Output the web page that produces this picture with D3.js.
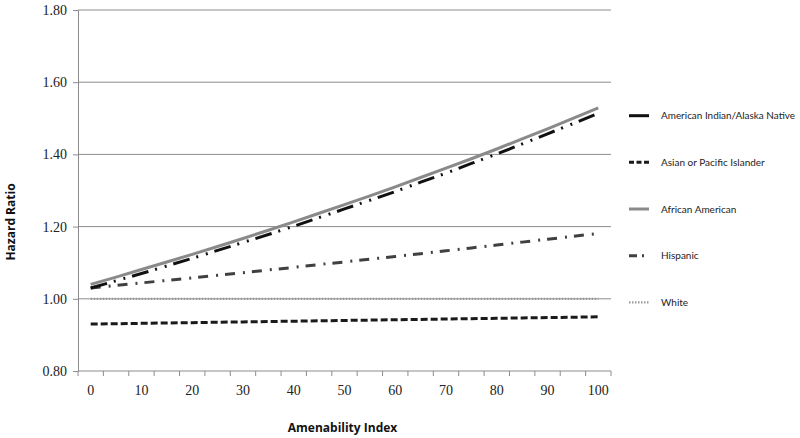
<!DOCTYPE html>
<html>
<head>
<meta charset="utf-8">
<script src="https://cdn.jsdelivr.net/npm/d3@7"></script>
<style>
  body { margin: 0; background: #fff; }
  svg { display: block; }
  .ylab, .xlab { font-family: "Liberation Serif", "Times New Roman", serif; font-size: 14px; fill: #222; }
  .title { font-family: "Open Sans", "Liberation Sans", sans-serif; font-weight: bold; font-size: 12px; fill: #111; }
  .leg { font-family: Lato, "Liberation Sans", sans-serif; font-size: 10px; fill: #222; }
</style>
</head>
<body>
<div id="chart"></div>
<script>
// amenability index categories (x axis)
var categories = [0, 5, 10, 15, 20, 25, 30, 35, 40, 45, 50, 55, 60, 65, 70, 75, 80, 85, 90, 95, 100];
var xTickLabels = [0, 10, 20, 30, 40, 50, 60, 70, 80, 90, 100];
var yTicks = [0.80, 1.00, 1.20, 1.40, 1.60, 1.80];

// hazard ratios
var aian     = [1.030, 1.050, 1.070, 1.091, 1.112, 1.134, 1.156, 1.178, 1.201, 1.225, 1.249, 1.273, 1.297, 1.323, 1.348, 1.375, 1.401, 1.429, 1.457, 1.485, 1.514];
var asian    = [0.930, 0.931, 0.932, 0.933, 0.934, 0.935, 0.936, 0.937, 0.938, 0.939, 0.940, 0.941, 0.942, 0.943, 0.944, 0.945, 0.946, 0.947, 0.948, 0.949, 0.950];
var african  = [1.040, 1.060, 1.081, 1.102, 1.123, 1.145, 1.167, 1.190, 1.213, 1.237, 1.261, 1.285, 1.310, 1.336, 1.362, 1.388, 1.415, 1.443, 1.471, 1.500, 1.529];
var hispanic = [1.030, 1.037, 1.044, 1.051, 1.058, 1.065, 1.072, 1.080, 1.087, 1.095, 1.102, 1.110, 1.117, 1.125, 1.133, 1.141, 1.149, 1.157, 1.165, 1.173, 1.181];
var white    = [1.00, 1.00, 1.00, 1.00, 1.00, 1.00, 1.00, 1.00, 1.00, 1.00, 1.00, 1.00, 1.00, 1.00, 1.00, 1.00, 1.00, 1.00, 1.00, 1.00, 1.00];

var seriesNames = ["American Indian/Alaska  Native", "Asian or Pacific Islander", "African American", "Hispanic", "White"];

var styles = [
  { color: "#111", width: 3, dash: "17,7,2,8,2,7", legDash: null },
  { color: "#1a1a1a", width: 3, dash: "7,3", legDash: "5,2.5" },
  { color: "#8a8a8a", width: 3, dash: null, legDash: null },
  { color: "#404040", width: 3, dash: "10,8,2,7", legDash: "8,5,2,5" },
  { color: "#9a9a9a", width: 2.2, dash: "1.5,1.5", legDash: "1.5,1.5" }
];

var series = [aian, asian, african, hispanic, white].map(function(vals, i) {
  return { name: seriesNames[i], values: vals, style: styles[i] };
});

var W = 800, H = 438;
var margin = { top: 10, right: 189, bottom: 67, left: 78 };
var width = W - margin.left - margin.right,
    height = H - margin.top - margin.bottom;

var svg = d3.select("#chart").append("svg")
    .attr("width", W)
    .attr("height", H);

var g = svg.append("g")
    .attr("transform", "translate(" + margin.left + "," + margin.top + ")");

var x = d3.scaleBand().domain(categories).range([0, width]).padding(0);
var y = d3.scaleLinear().domain([0.8, 1.8]).range([height, 0]);

// gridlines
g.selectAll(".grid")
  .data(yTicks.slice(1))
  .enter().append("line")
    .attr("x1", 0).attr("x2", width)
    .attr("y1", function(d) { return y(d); })
    .attr("y2", function(d) { return y(d); })
    .attr("stroke", "#8c8c8c")
    .attr("stroke-width", 1);

// y axis
var yAxis = d3.axisLeft(y).tickValues(yTicks).tickSize(5).tickPadding(6)
    .tickFormat(d3.format(".2f"));
var yg = g.append("g").call(yAxis);
yg.select(".domain").attr("stroke", "#8c8c8c");
yg.selectAll(".tick line").attr("stroke", "#8c8c8c");
yg.selectAll("text").attr("class", "ylab").attr("font-family", null).attr("font-size", null);

// x axis: labels every other category, ticks at category boundaries
var xAxis = d3.axisBottom(x)
    .tickValues(xTickLabels)
    .tickSize(0)
    .tickPadding(14);
var xg = g.append("g").attr("transform", "translate(0," + height + ")").call(xAxis);
xg.select(".domain").remove();
xg.selectAll("text").attr("class", "xlab").attr("font-family", null).attr("font-size", null);

g.append("line")
    .attr("x1", 0).attr("x2", width)
    .attr("y1", height).attr("y2", height)
    .attr("stroke", "#8c8c8c");

var bounds = categories.map(function(c) { return x(c); }).concat([x.range()[1]]);
g.selectAll(".xtick")
  .data(bounds)
  .enter().append("line")
    .attr("x1", function(d) { return d; }).attr("x2", function(d) { return d; })
    .attr("y1", height).attr("y2", height + 5)
    .attr("stroke", "#8c8c8c");

// lines
var line = d3.line()
    .x(function(d, i) { return x(categories[i]) + x.bandwidth() / 2; })
    .y(function(d) { return y(d); });

// draw order: white, asian, hispanic, african american, aian on top
[4, 1, 3, 2, 0].forEach(function(i) {
  var s = series[i];
  g.append("path")
    .datum(s.values)
    .attr("fill", "none")
    .attr("stroke", s.style.color)
    .attr("stroke-width", s.style.width)
    .attr("stroke-dasharray", s.style.dash)
    .attr("d", line);
});

// axis titles
svg.append("text")
    .attr("class", "title")
    .attr("x", margin.left + width / 2 - 2)
    .attr("y", 432)
    .attr("text-anchor", "middle")
    .text("Amenability Index");

svg.append("text")
    .attr("class", "title")
    .attr("transform", "translate(15,222) rotate(-90)")
    .attr("text-anchor", "middle")
    .text("Hazard Ratio");

// legend
var legend = svg.append("g").attr("transform", "translate(629,115.7)");
series.forEach(function(s, i) {
  var row = legend.append("g").attr("transform", "translate(0," + (i * 46.65) + ")");
  row.append("line")
    .attr("x1", 0).attr("x2", 20)
    .attr("y1", 0).attr("y2", 0)
    .attr("stroke", s.style.color)
    .attr("stroke-width", s.style.width)
    .attr("stroke-dasharray", s.style.legDash);
  var t = row.append("text")
    .attr("class", "leg")
    .attr("x", 32)
    .attr("y", 0)
    .attr("dy", "0.35em")
    .text(s.name);
  // keep the long label inside the window, like the narrow original font
  if (t.node().getComputedTextLength() > 134) {
    t.attr("textLength", 134).attr("lengthAdjust", "spacingAndGlyphs");
  }
});
</script>
</body>
</html>
